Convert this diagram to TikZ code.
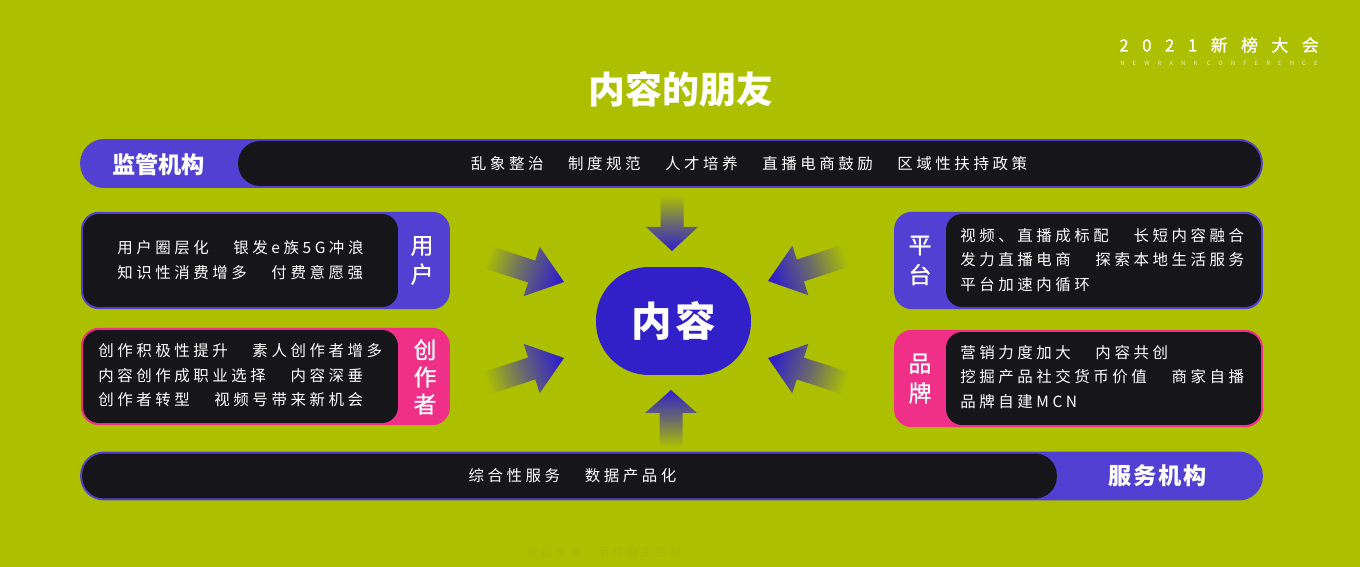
\documentclass[tikz,border=0pt]{standalone}
\usepackage{fontspec}
\setmainfont{Noto Sans CJK SC}
\newfontfamily\bodyfont[LetterSpace=23]{Noto Sans CJK SC}
\newfontfamily\headfont[LetterSpace=8]{Noto Sans CJK SC}
\newfontfamily\sidefont[LetterSpace=8,FakeBold=1]{Noto Sans CJK SC}
\newfontfamily\logofont[LetterSpace=80,FakeBold=1]{Noto Sans CJK SC}
\newfontfamily\tinyfont[LetterSpace=135]{Noto Sans CJK SC}
\newcommand{\gap}{\hspace{14pt}}
\definecolor{bgolive}{HTML}{ADC000}
\definecolor{barindigo}{HTML}{5240D3}
\definecolor{barpink}{HTML}{F03088}
\definecolor{bardark}{HTML}{15151A}
\definecolor{coreblue}{HTML}{3120C8}
\definecolor{srcgray}{HTML}{A8BA06}
\tikzset{
	outerbar/.style={fill=barindigo, inner sep=0pt, rounded corners=0.48cm, minimum height=0.98cm, minimum width=23.66cm},
	outercard/.style={fill=#1, inner sep=0pt, rounded corners=0.36cm, minimum height=1.95cm, minimum width=7.38cm},
	darkbar/.style={fill=bardark, inner sep=0pt, rounded corners=0.44cm, minimum height=0.9cm},
	darkcard/.style={fill=bardark, inner sep=0pt, rounded corners=0.32cm, minimum height=1.86cm, minimum width=6.3cm},
	bodytext/.style={text=white, inner sep=0pt, align=left, font=\bodyfont\fontsize{8.8}{13.9}\selectfont},
	sidetext/.style={text=white, inner sep=0pt, align=center, font=\sidefont\fontsize{13}{#1}\selectfont},
	headtext/.style={text=white, inner sep=0pt, font=\bfseries\fontsize{13.2}{16}\selectfont},
}
\begin{document}
\begin{tikzpicture}[x=0.02cm, y=-0.02cm]
	\useasboundingbox (0,0) rectangle (1360,567);
	\fill[bgolive] (0,0) rectangle (1360,567);
	% title and logo
	\node[text=white, inner sep=0pt, font=\bfseries\fontsize{21}{25}\selectfont] (title) at (681,89) {内容的朋友};
	\node[text=white, inner sep=0pt, anchor=west, font=\logofont\fontsize{9.6}{12}\selectfont] (logo) at (1119,45) {2021新榜大会};
	\node[text=white!75!bgolive, inner sep=0pt, anchor=west, font=\tinyfont\fontsize{3.4}{5}\selectfont] (logosub) at (1120,63.5) {NEWRANK CONFERENCE};
	% top bar
	\node[outerbar] (topbar) at (671.5,163.5) {};
	\node[darkbar, minimum width=20.46cm] (topdark) at (749.5,163.5) {};
	\node[headtext] (toplabel) at (158.5,164.5) {监管机构};
	\node[bodytext] (toptext) at (749,163.5) {乱象整治\gap 制度规范\gap 人才培养\gap 直播电商鼓励\gap 区域性扶持政策};
	% bottom bar
	\node[outerbar] (botbar) at (671.5,476) {};
	\node[darkbar, minimum width=19.5cm] (botdark) at (569.5,476) {};
	\node[headtext, font=\headfont\bfseries\fontsize{13.2}{16}\selectfont] (botlabel) at (1158,475.5) {服务机构};
	\node[bodytext] (bottext) at (572.5,475.5) {综合性服务\gap 数据产品化};
	% left cards
	\node[outercard=barindigo] (usercard) at (265.5,260.5) {};
	\node[darkcard] (userdark) at (240.5,260.5) {};
	\node[sidetext=16.5] (userlabel) at (422,260.5) {用\\户};
	\node[bodytext, anchor=west] (usertext) at (117,260) {用户圈层化\gap 银发e族5G冲浪\\知识性消费增多\gap 付费意愿强};
	\node[outercard=barpink] (makercard) at (265.5,376.5) {};
	\node[darkcard] (makerdark) at (240.5,376.5) {};
	\node[sidetext=15.5] (makerlabel) at (425,377) {创\\作\\者};
	\node[bodytext, anchor=west] (makertext) at (98,375.5) {创作积极性提升\gap 素人创作者增多\\内容创作成职业选择\gap 内容深垂\\创作者转型\gap 视频号带来新机会};
	% right cards
	\node[outercard=barindigo] (platcard) at (1078.5,260.5) {};
	\node[darkcard] (platdark) at (1103.5,260.5) {};
	\node[sidetext=17] (platlabel) at (920,260.5) {平\\台};
	\node[bodytext, anchor=west] (plattext) at (960,260) {视频、直播成标配\gap 长短内容融合\\发力直播电商\gap 探索本地生活服务\\平台加速内循环};
	\node[outercard=barpink] (brandcard) at (1078.5,378.5) {};
	\node[darkcard] (branddark) at (1103.5,378.5) {};
	\node[sidetext=17] (brandlabel) at (920,378.5) {品\\牌};
	\node[bodytext, anchor=west] (brandtext) at (960,377) {营销力度加大\gap 内容共创\\挖掘产品社交货币价值\gap 商家自播\\品牌自建MCN};
	% center
	\node[fill=coreblue, inner sep=0pt, rounded corners=1.06cm, minimum width=3.1cm, minimum height=2.16cm, text=white, font=\headfont\bfseries\fontsize{23}{28}\selectfont] (core) at (673.5,321) {内容};
	% fading arrows: tip x, tip y, direction, length, head length
	\foreach \tx/\ty/\ang/\len/\hd in {672/251/-90/56/24, 671/390/90/57/23, 564/282/-18/84/34, 564/358/18/84/34, 768/281/198/85/34, 768/358/162/85/34}
		\shade[top color=bgolive, bottom color=coreblue, shading angle=\ang+90, middle color=bgolive!45!coreblue]
			[shift={(\tx,\ty)}, rotate=\ang]
			(0,0) -- (-\hd,-26) -- (-\hd,-11.5) -- (-\len,-11.5) -- (-\len,11.5) -- (-\hd,11.5) -- (-\hd,26) -- cycle;
	% source line
	\node[text=srcgray, inner sep=0pt, font=\bodyfont\fontsize{6.6}{9}\selectfont] (source) at (604,552) {数据来源：新榜自主绘制};
\end{tikzpicture}
\end{document}
